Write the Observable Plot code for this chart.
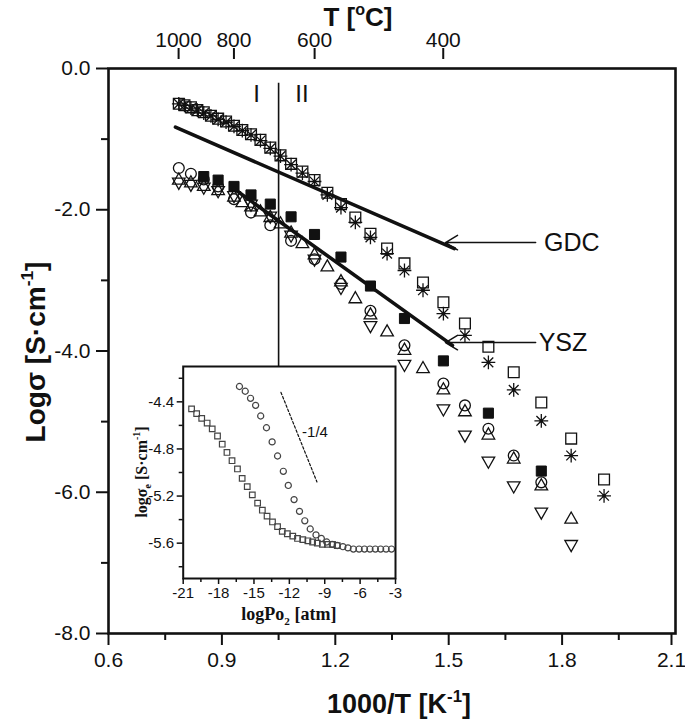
<!DOCTYPE html>
<html>
<head>
<meta charset="utf-8">
<script src="https://cdn.jsdelivr.net/npm/d3@7"></script>
<script src="https://cdn.jsdelivr.net/npm/@observablehq/plot@0.6"></script>
<style>
  html, body { margin: 0; padding: 0; background: #fff; }
  #wrap { position: relative; width: 685px; height: 727px; overflow: hidden; }
  #inset { position: absolute; left: 120px; top: 355px; }
</style>
</head>
<body>
<div id="wrap"><div id="main"></div><div id="inset"></div></div>
<script>
// ---------- main chart: ticks ----------
const xTicks = [0.6, 0.9, 1.2, 1.5, 1.8];
const xLastTick = [2.1];
const xMinorTicks = [0.75, 1.05, 1.35, 1.65, 1.95];
const yTicks = [0, -2, -4, -6, -8];
const yMinorTicks = [-1, -3, -5, -7];
const topTempTicks = [1000, 800, 600, 400]; // °C

// ---------- GDC (open square and asterisk) ----------
const gdcX = [0.786, 0.801, 0.818, 0.835, 0.852, 0.871, 0.890, 0.911, 0.932, 0.954, 0.977, 1.002, 1.028, 1.055, 1.083, 1.113,
              1.145, 1.179, 1.215, 1.253, 1.293, 1.337, 1.383, 1.432, 1.486, 1.543, 1.605, 1.672, 1.745, 1.824, 1.911];
const gdcSquareY = [-0.50, -0.52, -0.55, -0.59, -0.62, -0.67, -0.71, -0.75, -0.81, -0.87, -0.93, -1.01, -1.12, -1.23, -1.35, -1.46,
                    -1.58, -1.76, -1.92, -2.11, -2.34, -2.55, -2.76, -3.03, -3.31, -3.61, -3.94, -4.30, -4.73, -5.24, -5.82];
const gdcStarY = [-0.50, -0.52, -0.56, -0.59, -0.63, -0.67, -0.72, -0.76, -0.82, -0.88, -0.94, -1.02, -1.13, -1.24, -1.36, -1.48,
                  -1.60, -1.79, -1.97, -2.18, -2.39, -2.62, -2.86, -3.14, -3.47, -3.78, -4.16, -4.55, -4.99, -5.48, -6.05];

// ---------- YSZ (filled square, circle, up triangle, down triangle) ----------
const yszSolidX = [0.852, 0.890, 0.932, 0.977, 1.028, 1.083, 1.145, 1.215, 1.293, 1.383, 1.486, 1.605, 1.745];
const yszSolidY = [-1.53, -1.58, -1.67, -1.79, -1.92, -2.10, -2.35, -2.67, -3.08, -3.54, -4.14, -4.88, -5.70];
const yszCircleX = [0.786, 0.818, 0.852, 0.890, 0.932, 0.977, 1.028, 1.083, 1.145, 1.215, 1.293, 1.383, 1.486, 1.543, 1.605, 1.672, 1.745];
const yszCircleY = [-1.41, -1.49, -1.57, -1.67, -1.85, -2.04, -2.22, -2.44, -2.70, -3.05, -3.43, -3.92, -4.46, -4.77, -5.10, -5.48, -5.86];
const yszUpX = [0.786, 0.818, 0.852, 0.890, 0.932, 0.954, 0.977, 1.002, 1.028, 1.055, 1.083, 1.113, 1.145, 1.179, 1.215, 1.253,
                1.293, 1.337, 1.383, 1.432, 1.486, 1.543, 1.605, 1.672, 1.745, 1.824];
const yszUpY = [-1.56, -1.60, -1.65, -1.71, -1.80, -1.88, -1.94, -2.01, -2.09, -2.18, -2.31, -2.46, -2.62, -2.79, -3.00, -3.24,
                -3.47, -3.71, -3.97, -4.23, -4.53, -4.84, -5.17, -5.51, -5.89, -6.36];
const yszDownX = [0.786, 0.818, 0.852, 0.890, 0.932, 0.977, 1.028, 1.083, 1.145, 1.215, 1.293, 1.383, 1.486, 1.543, 1.605, 1.672, 1.745, 1.824];
const yszDownY = [-1.63, -1.66, -1.70, -1.75, -1.82, -1.94, -2.11, -2.38, -2.72, -3.12, -3.66, -4.21, -4.84, -5.21, -5.58, -5.93, -6.30, -6.76];

// ---------- fit lines and annotations ----------
const gdcFitX = [0.777, 1.515];
const gdcFitY = [-0.83, -2.55];
const yszFitX = [0.931, 1.510];
const yszFitY = [-1.70, -3.92];
const regionLineX = 1.05;
const regionLineY = [-0.21, -4.22];
const regionLabels = ["I", "II"];
const regionLabelX = [0.992, 1.112];
const regionLabelY = [-0.37, -0.37];
const calloutLabels = ["GDC", "YSZ"];
const calloutTipX = [1.4915, 1.4915];
const calloutTailX = [1.730, 1.730];
const calloutY = [-2.465, -3.881];
const calloutTextX = [1.752, 1.738];

// ---------- inset ----------
const insetXTicks = [-21, -18, -15, -12, -9, -6, -3];
const insetXMinor = [-19.5, -16.5, -13.5, -10.5, -7.5, -4.5];
const insetYTicks = [-4.4, -4.8, -5.2, -5.6];
const insetYMinor = [-4.2, -4.6, -5.0, -5.4, -5.8];
const insetSquareX = [-20.29, -19.86, -19.43, -18.97, -18.54, -18.09, -17.69, -17.29, -16.86, -16.40, -16.00, -15.57, -15.14, -14.69, -14.29,
                      -13.89, -13.43, -13.00, -12.60, -12.17, -11.71, -11.31, -10.86, -10.43, -10.03, -9.63, -9.20, -8.77, -8.34, -7.94];
const insetSquareY = [-4.46, -4.50, -4.54, -4.58, -4.63, -4.69, -4.76, -4.83, -4.90, -4.97, -5.05, -5.12, -5.19, -5.26, -5.32,
                      -5.37, -5.42, -5.46, -5.50, -5.52, -5.54, -5.56, -5.57, -5.58, -5.59, -5.60, -5.61, -5.61, -5.61, -5.62];
const insetCircleX = [-16.23, -15.74, -15.29, -14.86, -14.43, -13.94, -13.46, -13.00, -12.51, -12.09, -11.60, -11.14, -10.69, -10.23, -9.74,
                      -9.29, -8.83, -8.37, -7.94, -7.46, -7.03, -6.57, -6.09, -5.63, -5.17, -4.71, -4.26, -3.80, -3.34];
const insetCircleY = [-4.27, -4.31, -4.37, -4.43, -4.52, -4.62, -4.74, -4.86, -4.99, -5.11, -5.23, -5.33, -5.41, -5.48, -5.53,
                      -5.56, -5.59, -5.61, -5.62, -5.63, -5.64, -5.65, -5.65, -5.65, -5.65, -5.65, -5.65, -5.65, -5.65];
const slopeX = [-12.71, -9.66];
const slopeY = [-4.32, -5.08];
const slopeLabel = "-1/4";
const slopeLabelX = -10.92;
const slopeLabelY = -4.66;

// ---------- helpers ----------
const pts = (xs, ys) => xs.map((x, i) => ({x, y: ys[i]}));
const INK = "#111";
const SANS = "'Liberation Sans', Arial, Helvetica, sans-serif";
const SERIF = "'Liberation Serif', 'Times New Roman', serif";

const rOf = size => Math.sqrt(size / Math.PI);
const symSquare = {draw(c, size) { const h = rOf(size) * 0.9; c.moveTo(-h, -h); c.lineTo(h, -h); c.lineTo(h, h); c.lineTo(-h, h); c.closePath(); }};
const symCircle = {draw(c, size) { const r = rOf(size) * 0.9; c.moveTo(r, 0); c.arc(0, 0, r, 0, 2 * Math.PI); c.closePath(); }};
const symUp = {draw(c, size) { const r = rOf(size); c.moveTo(0, -0.95 * r); c.lineTo(1.05 * r, 0.9 * r); c.lineTo(-1.05 * r, 0.9 * r); c.closePath(); }};
const symDown = {draw(c, size) { const r = rOf(size); c.moveTo(0, 0.95 * r); c.lineTo(1.05 * r, -0.9 * r); c.lineTo(-1.05 * r, -0.9 * r); c.closePath(); }};
const symStar = {draw(c, size) {
  const r = rOf(size) * 1.15;
  for (const a of [0, 45, 90, 135]) {
    const dx = Math.cos(a * Math.PI / 180) * r, dy = Math.sin(a * Math.PI / 180) * r;
    c.moveTo(dx, dy); c.lineTo(-dx, -dy);
  }
}};

const openDot = (data, symbol, r = 6) => Plot.dot(data, {x: "x", y: "y", symbol, r, stroke: INK, fill: "none", strokeWidth: 1.3});

function richText(svg, {x, y, rotate = 0, size, weight = "bold", family = SANS, parts}) {
  const t = d3.select(svg).append("text")
    .attr("transform", `translate(${x},${y}) rotate(${rotate})`)
    .attr("text-anchor", "middle")
    .attr("font-family", family).attr("font-size", size).attr("font-weight", weight)
    .attr("fill", INK);
  let shift = 0;
  for (const p of parts) {
    const ts = t.append("tspan").text(p.t);
    let target = 0;
    if (p.sup) { ts.attr("font-size", size * 0.62); target = -size * 0.42; }
    if (p.sub) { ts.attr("font-size", size * 0.62); target = size * 0.25; }
    if (target !== shift) { ts.attr("dy", target - shift); shift = target; }
  }
}

// ---------- main plot ----------
const callouts = calloutLabels.map((label, i) => ({label, tip: calloutTipX[i], tail: calloutTailX[i], y: calloutY[i], tx: calloutTextX[i]}));
const regions = regionLabels.map((label, i) => ({label, x: regionLabelX[i], y: regionLabelY[i]}));

const main = Plot.plot({
  width: 685, height: 727,
  marginLeft: 108, marginRight: 10, marginTop: 68, marginBottom: 94,
  x: {domain: [0.6, 2.1]},
  y: {domain: [-8, 0]},
  style: {fontFamily: SANS, fontSize: "21px", color: INK, background: "white"},
  marks: [
    Plot.axisX(xTicks, {anchor: "bottom", tickSize: 12, tickPadding: 7, strokeWidth: 2, tickFormat: d => d.toFixed(1), label: null, fontSize: 21}),
    Plot.axisX(xLastTick, {anchor: "bottom", tickSize: 12, tickPadding: 7, strokeWidth: 2, tickFormat: d => d.toFixed(1), label: null, fontSize: 21, dx: -4}),
    Plot.axisX(xMinorTicks, {anchor: "bottom", tickSize: 7, strokeWidth: 2, tickFormat: () => "", label: null}),
    Plot.axisY(yTicks, {anchor: "left", tickSize: 12, tickPadding: 6, strokeWidth: 2, tickFormat: d => d.toFixed(1), label: null, fontSize: 21}),
    Plot.axisY(yMinorTicks, {anchor: "left", tickSize: 7, strokeWidth: 2, tickFormat: () => "", label: null}),
    Plot.axisX(topTempTicks.map(t => 1000 / (t + 273.15)), {anchor: "top", tickSize: 11, tickPadding: 1, strokeWidth: 2, dy: -10,
      tickFormat: v => String(Math.round(1000 / v - 273.15)), label: null, fontSize: 21}),
    Plot.ruleX([regionLineX], {y1: regionLineY[0], y2: regionLineY[1], stroke: INK, strokeWidth: 1.6}),
    Plot.text(regions, {x: "x", y: "y", text: "label", fontSize: 24, fill: INK}),
    // YSZ
    openDot(pts(yszCircleX, yszCircleY), symCircle),
    openDot(pts(yszUpX, yszUpY), symUp),
    openDot(pts(yszDownX, yszDownY), symDown),
    Plot.dot(pts(yszSolidX, yszSolidY), {x: "x", y: "y", symbol: symSquare, r: 5.6, fill: INK, stroke: INK, strokeWidth: 1}),
    // GDC
    openDot(pts(gdcX, gdcSquareY), symSquare),
    openDot(pts(gdcX, gdcStarY), symStar),
    Plot.dot(pts(gdcX, gdcStarY), {x: "x", y: "y", r: 1.7, fill: INK, stroke: "none"}),
    // fit lines
    Plot.line(pts(gdcFitX, gdcFitY), {x: "x", y: "y", stroke: INK, strokeWidth: 3.6}),
    Plot.line(pts(yszFitX, yszFitY), {x: "x", y: "y", stroke: INK, strokeWidth: 3.6}),
    // callouts
    Plot.arrow(callouts, {x1: "tail", y1: "y", x2: "tip", y2: "y", headLength: 14, headAngle: 62, stroke: INK, strokeWidth: 1.5}),
    Plot.text(callouts, {x: "tx", y: "y", text: "label", textAnchor: "start", fontSize: 25, fill: INK}),
    Plot.frame({stroke: INK, strokeWidth: 2.6})
  ]
});
document.getElementById("main").appendChild(main);
richText(main, {x: 45, y: 352, rotate: -90, size: 28, parts: [{t: "Logσ [S·cm"}, {t: "-1", sup: true}, {t: "]"}]});
richText(main, {x: 399, y: 713, size: 27, parts: [{t: "1000/T [K"}, {t: "-1", sup: true}, {t: "]"}]});
richText(main, {x: 358, y: 26, size: 26, parts: [{t: "T ["}, {t: "o", sup: true}, {t: "C]"}]});

// ---------- inset plot ----------
const inset = Plot.plot({
  width: 285, height: 270,
  marginLeft: 62.7, marginRight: 10, marginTop: 11, marginBottom: 47,
  x: {domain: [-21, -3]},
  y: {domain: [-5.9, -4.1]},
  style: {fontFamily: SANS, fontSize: "15px", color: INK, background: "transparent", overflow: "visible"},
  marks: [
    Plot.axisX(insetXTicks, {anchor: "bottom", tickSize: 6, tickPadding: 3, strokeWidth: 1.5, tickFormat: d => String(d), label: null, fontSize: 15}),
    Plot.axisX(insetXMinor, {anchor: "bottom", tickSize: 4, strokeWidth: 1.5, tickFormat: () => "", label: null}),
    Plot.axisY(insetYTicks, {anchor: "left", tickSize: 6, tickPadding: 3, strokeWidth: 1.5, tickFormat: d => d.toFixed(1), label: null, fontSize: 15}),
    Plot.axisY(insetYMinor, {anchor: "left", tickSize: 4, strokeWidth: 1.5, tickFormat: () => "", label: null}),
    Plot.dot(pts(insetSquareX, insetSquareY), {x: "x", y: "y", symbol: symSquare, r: 3.1, stroke: "#444", fill: "none", strokeWidth: 1.2}),
    Plot.dot(pts(insetCircleX, insetCircleY), {x: "x", y: "y", symbol: symCircle, r: 3.4, stroke: "#444", fill: "none", strokeWidth: 1.2}),
    Plot.line(pts(slopeX, slopeY), {x: "x", y: "y", stroke: INK, strokeWidth: 1.2, strokeDasharray: "2.5,2"}),
    Plot.text([slopeLabel], {x: () => slopeLabelX, y: () => slopeLabelY, text: d => d, textAnchor: "start", fontSize: 15, fill: INK}),
    Plot.frame({stroke: INK, strokeWidth: 2})
  ]
});
document.getElementById("inset").appendChild(inset);
richText(inset, {x: 168.9, y: 265, size: 18, family: SERIF, parts: [{t: "logPo"}, {t: "2", sub: true}, {t: " [atm]"}]});
richText(inset, {x: 27, y: 117, rotate: -90, size: 16, family: SERIF, parts: [{t: "logσ"}, {t: "e", sub: true}, {t: " [S·cm"}, {t: "-1", sup: true}, {t: "]"}]});
</script>
</body>
</html>
